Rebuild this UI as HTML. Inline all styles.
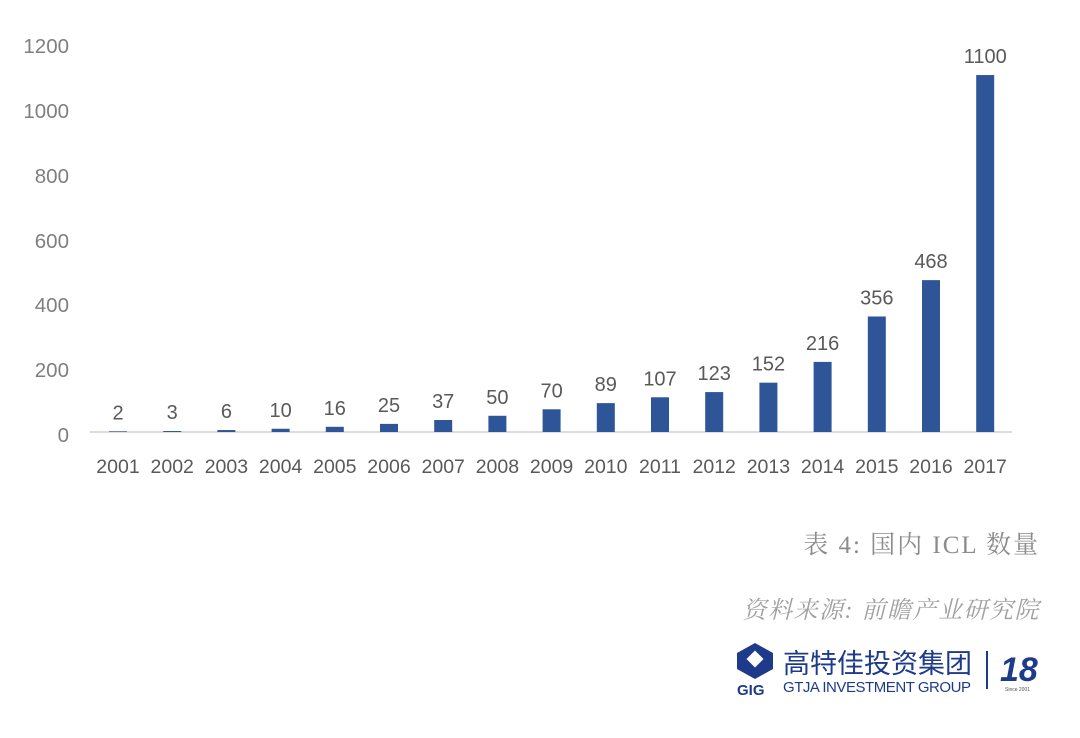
<!DOCTYPE html>
<html><head><meta charset="utf-8"><style>
body{margin:0;background:#fff;width:1080px;height:733px;overflow:hidden;}
svg text{font-family:"Liberation Sans","Noto Sans CJK SC",sans-serif;}
</style></head><body>
<svg width="1080" height="733" viewBox="0 0 1080 733" xmlns="http://www.w3.org/2000/svg">
<g fill="#7f7f7f" font-size="20.5" text-anchor="end">
<text x="69" y="442">0</text>
<text x="69" y="377">200</text>
<text x="69" y="312">400</text>
<text x="69" y="248">600</text>
<text x="69" y="183">800</text>
<text x="69" y="118">1000</text>
<text x="69" y="53">1200</text>
</g>
<line x1="90" y1="432" x2="1012" y2="432" stroke="#d0d0d0" stroke-width="1.5"/>
<g id="bars" fill="#2e5597"></g>
<g id="lbl" fill="#595959" font-size="20" text-anchor="middle"></g>
<g id="yr" fill="#595959" font-size="19.5" text-anchor="middle"></g>
<text x="1040" y="553" font-size="25" fill="#8c8c8c" text-anchor="end" letter-spacing="2" style="font-family:'Liberation Serif','Noto Serif CJK SC',serif">表 4: 国内 ICL 数量</text>
<text x="1040" y="618" font-size="24" fill="#a0a0a0" text-anchor="end" font-style="italic" letter-spacing="1.5" style="font-family:'Liberation Serif','Noto Serif CJK SC',serif">资料来源: 前瞻产业研究院</text>
<g transform="translate(737,643)">
<polygon points="18,0 36,10 36,26 18,36 0,26 0,10" fill="#1e3a8a"/>
<rect x="12" y="10" width="12" height="12" fill="#fff" transform="rotate(45 18 16)"/>
<text x="0" y="52" font-size="15" font-weight="bold" fill="#1e3a8a">GIG</text>
<text x="46" y="30" font-size="27" fill="#1e3a8a" style="font-family:'Noto Sans CJK SC',sans-serif">高特佳投资集团</text>
<text x="46" y="49" font-size="15" fill="#1e3a8a" textLength="188">GTJA INVESTMENT GROUP</text>
<line x1="250" y1="8" x2="250" y2="46" stroke="#1e3a8a" stroke-width="2"/>
<text x="263" y="38" font-size="34" font-style="italic" font-weight="bold" fill="#1e3a8a">18</text>
<text x="268" y="48" font-size="5" fill="#555">Since 2001</text>
</g>
</svg>
<script>
var v=[2,3,6,10,16,25,37,50,70,89,107,123,152,216,356,468,1100];
var ns="http://www.w3.org/2000/svg";
var b=document.getElementById('bars'),l=document.getElementById('lbl'),y=document.getElementById('yr');
v.forEach(function(d,i){
 var c=118+54.2*i,h=d*0.3245,top=432-h;
 var r=document.createElementNS(ns,'rect');r.setAttribute('x',c-9);r.setAttribute('y',top);r.setAttribute('width',18);r.setAttribute('height',h);b.appendChild(r);
 var t=document.createElementNS(ns,'text');t.setAttribute('x',c);t.setAttribute('y',top-12);t.textContent=d;l.appendChild(t);
 var u=document.createElementNS(ns,'text');u.setAttribute('x',c);u.setAttribute('y',473);u.textContent=2001+i;y.appendChild(u);
});
</script>
</body></html>
